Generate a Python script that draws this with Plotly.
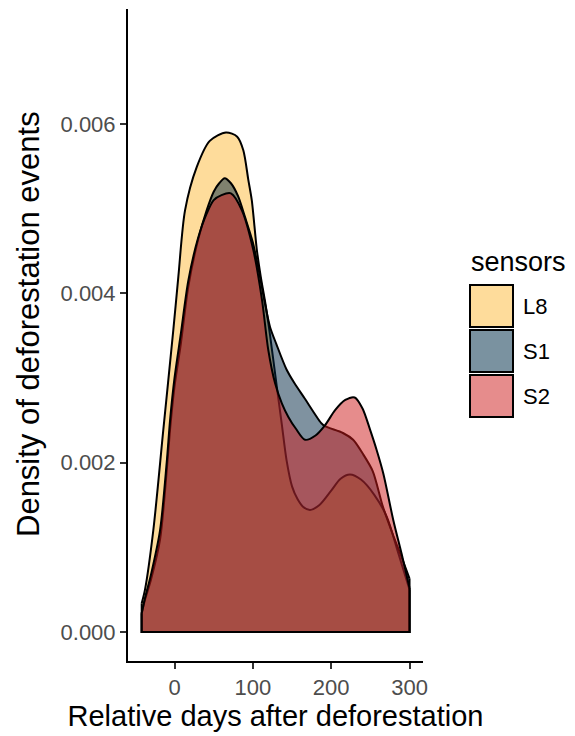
import plotly.graph_objects as go

# ---- data ----
sensors = ["L8", "S1", "S2"]

days_L8 = [-41.9, -37.7, -27.1, -14.3, -1.5, 4.9, 13.4, 28.3, 45, 65.7, 80, 87.8, 94.2, 98.6,
           105, 110, 116, 122, 130.5, 137, 143, 150, 157, 164, 173, 185, 200, 212, 224, 238,
           255, 271, 285, 300]
dens_L8 = [0.00034, 0.0005, 0.0012, 0.00239, 0.00357, 0.0042, 0.00498, 0.00549, 0.0058, 0.0059,
           0.00585, 0.00569, 0.00534, 0.0051, 0.00452, 0.0042, 0.00388, 0.0035, 0.0029, 0.00245,
           0.00203, 0.00172, 0.00157, 0.00148, 0.00144, 0.0015, 0.00167, 0.00181, 0.00186,
           0.0018, 0.00162, 0.00136, 0.00095, 0.0005]

days_S1 = [-41.9, -37.7, -30, -18.5, -10, -5.7, 0, 8, 17.6, 30, 41, 50, 57, 64, 72, 81, 90,
           100, 108, 115, 122, 130, 143, 153, 166, 187, 192, 215, 228, 240, 253, 266, 280,
           290, 300]
dens_S1 = [0.00022, 0.00038, 0.00062, 0.00109, 0.0019, 0.00239, 0.0029, 0.0034, 0.00408,
           0.00463, 0.00498, 0.0052, 0.0053, 0.00536, 0.0053, 0.00515, 0.0049, 0.0046, 0.00425,
           0.0039, 0.0036, 0.0034, 0.0031, 0.00294, 0.00276, 0.00247, 0.00243, 0.00235,
           0.00227, 0.00211, 0.0019, 0.00148, 0.00112, 0.00088, 0.00063]

days_S2 = [-41.9, -37.7, -30, -18.5, -10, -5.7, 0, 8, 17.6, 30, 41, 50, 60, 72, 86, 100.6,
           111.7, 119.7, 128.3, 137, 145.3, 155, 166.6, 180, 192, 205, 218, 230, 240, 249.6,
           258, 266.6, 279.3, 290, 300]
dens_S2 = [0.00022, 0.0004, 0.00068, 0.0012, 0.002, 0.0025, 0.003, 0.00352, 0.00415, 0.00465,
           0.00494, 0.0051, 0.00516, 0.00518, 0.00498, 0.00451, 0.00392, 0.00333, 0.00294,
           0.0027, 0.00254, 0.0024, 0.00227, 0.00232, 0.00244, 0.00262, 0.00274, 0.00277,
           0.00264, 0.00239, 0.00215, 0.00187, 0.00132, 0.00092, 0.00052]

x_ticks = [0, 100, 200, 300]
y_ticks = [0.000, 0.002, 0.004, 0.006]
y_tick_labels = ["0.000", "0.002", "0.004", "0.006"]

fill_colors = {"L8": "rgba(253,185,55,0.5)", "S1": "rgba(0,38,66,0.5)", "S2": "rgba(205,25,25,0.5)"}
key_colors = {"L8": "rgb(254,220,155)", "S1": "rgb(122,146,160)", "S2": "rgb(230,140,140)"}

series = {"L8": (days_L8, dens_L8), "S1": (days_S1, dens_S1), "S2": (days_S2, dens_S2)}

FONT = "Liberation Sans, Arial, sans-serif"
fig = go.Figure()
for s in sensors:
    xs, ys = series[s]
    fig.add_trace(go.Scatter(x=xs, y=ys, mode="lines", fill="tozeroy",
                             fillcolor=fill_colors[s],
                             line=dict(color="black", width=2, shape="spline", smoothing=0.8),
                             showlegend=False, hoverinfo="skip"))
    # polygon sides and baseline, like ggplot's closed density outline
    fig.add_trace(go.Scatter(x=[xs[0], xs[0], xs[-1], xs[-1]], y=[ys[0], 0, 0, ys[-1]],
                             mode="lines", line=dict(color="black", width=2),
                             showlegend=False, hoverinfo="skip"))

# plot area in pixels: x 128..423, y 9..661
L, R, T, B = 128, 423, 9, 661
W, H = 575, 736
def px(x):
    return (x - L) / (R - L)
def py(y):
    return (B - y) / (B - T)

shapes = []
annotations = []
annotations.append(dict(x=px(469), y=py(262), xref="paper", yref="paper", text="sensors",
                        showarrow=False, xanchor="left", yanchor="middle",
                        font=dict(family=FONT, size=27, color="black")))
for i, s in enumerate(sensors):
    top = 285 + 45 * i
    shapes.append(dict(type="rect", xref="paper", yref="paper",
                       x0=px(470), x1=px(513), y0=py(top), y1=py(top + 42),
                       fillcolor=key_colors[s], line=dict(color="black", width=2)))
    annotations.append(dict(x=px(521), y=py(top + 21), xref="paper", yref="paper", text=s,
                            showarrow=False, xanchor="left", yanchor="middle",
                            font=dict(family=FONT, size=22, color="black")))
# y-axis title as rotated text, centred where the reference puts it
annotations.append(dict(x=px(28), y=py(324), xref="paper", yref="paper",
                        text="Density of deforestation events", textangle=-90,
                        showarrow=False, xanchor="center", yanchor="middle",
                        font=dict(family=FONT, size=31, color="black")))

fig.update_layout(
    width=W, height=H,
    margin=dict(l=L, r=W - R, t=T, b=H - B, autoexpand=False),
    paper_bgcolor="white", plot_bgcolor="white",
    shapes=shapes, annotations=annotations,
    showlegend=False,
    xaxis=dict(range=[-59.4, 317.2], tickvals=x_ticks, showgrid=False, zeroline=False,
               showline=True, linecolor="black", linewidth=2,
               ticks="outside", ticklen=6, tickwidth=2, tickcolor="#333333",
               tickfont=dict(family=FONT, size=22, color="#4D4D4D"),
               title=dict(text="Relative days after deforestation", standoff=6,
                          font=dict(family=FONT, size=29, color="black"))),
    yaxis=dict(range=[-0.000343, 0.007358], tickvals=y_ticks, ticktext=y_tick_labels,
               showgrid=False, zeroline=False,
               showline=True, linecolor="black", linewidth=2,
               ticks="outside", ticklen=6, tickwidth=2, tickcolor="#333333",
               tickfont=dict(family=FONT, size=22, color="#4D4D4D")),
)

fig.write_html("out.html", config={"displayModeBar": False},
               post_script="document.body.style.margin='0';document.body.style.padding='0';")
